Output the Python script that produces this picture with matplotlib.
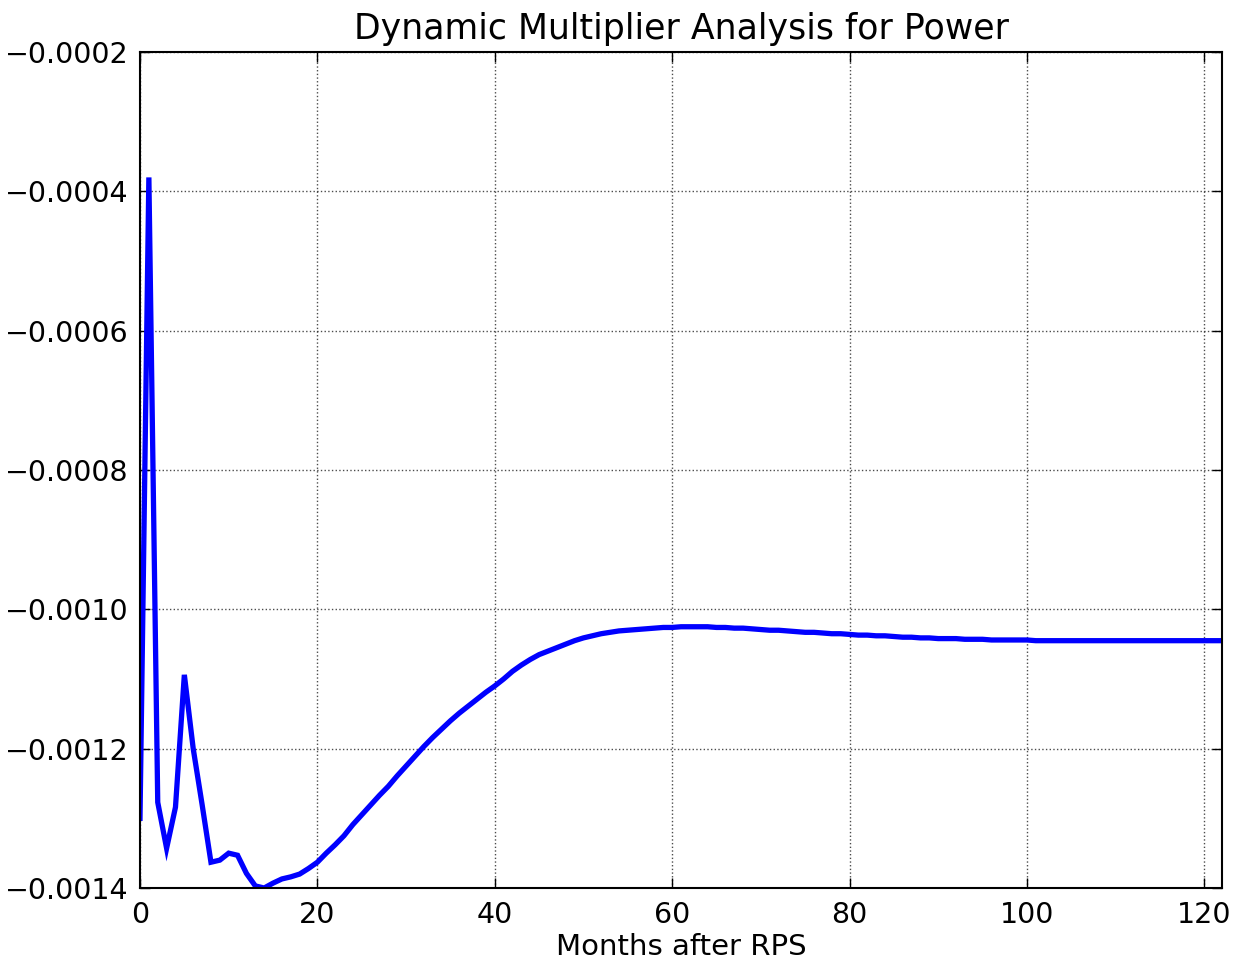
import matplotlib
matplotlib.use("Agg")
import matplotlib.pyplot as plt
from matplotlib.ticker import FuncFormatter, MultipleLocator

title = "Dynamic Multiplier Analysis for Power"
xlabel = "Months after RPS"

months = list(range(0, 123))
multiplier = [
    -0.001300, -0.000380, -0.001277, -0.001343, -0.001284, -0.001094, -0.001200, -0.001280,
    -0.001363, -0.001360, -0.001350, -0.001353, -0.001379, -0.001397, -0.001400, -0.001393,
    -0.001387, -0.001384, -0.001380, -0.001372, -0.001363, -0.001350, -0.001338, -0.001325,
    -0.001309, -0.001295, -0.001281, -0.001267, -0.001254, -0.001239, -0.001225, -0.001211,
    -0.001197, -0.001184, -0.001172, -0.001160, -0.001149, -0.001139, -0.001129, -0.001119,
    -0.001110, -0.001100, -0.001089, -0.001080, -0.001072, -0.001065, -0.001060, -0.001055,
    -0.001050, -0.001045, -0.001041, -0.001038, -0.001035, -0.001033, -0.001031, -0.001030,
    -0.001029, -0.001028, -0.001027, -0.001026, -0.001026, -0.001025, -0.001025, -0.001025,
    -0.001025, -0.001026, -0.001026, -0.001027, -0.001027, -0.001028, -0.001029, -0.001030,
    -0.001030, -0.001031, -0.001032, -0.001033, -0.001033, -0.001034, -0.001035, -0.001035,
    -0.001036, -0.001037, -0.001037, -0.001038, -0.001038, -0.001039, -0.001040, -0.001040,
    -0.001041, -0.001041, -0.001042, -0.001042, -0.001042, -0.001043, -0.001043, -0.001043,
    -0.001044, -0.001044, -0.001044, -0.001044, -0.001044, -0.001045, -0.001045, -0.001045,
    -0.001045, -0.001045, -0.001045, -0.001045, -0.001045, -0.001045, -0.001045, -0.001045,
    -0.001045, -0.001045, -0.001045, -0.001045, -0.001045, -0.001045, -0.001045, -0.001045,
    -0.001045, -0.001045, -0.001045,
]

fig = plt.figure(figsize=(12.42, 9.63), dpi=100)
ax = fig.add_axes([140/1242, 1-888/963, (1222-140)/1242, (888-52)/963])

ax.plot(months, multiplier, color="#0000ff", linewidth=3.8, solid_joinstyle="miter")

ax.set_xlim(0, 122)
ax.set_ylim(-0.0014, -0.0002)
ax.xaxis.set_major_locator(MultipleLocator(20))
ax.yaxis.set_major_locator(MultipleLocator(0.0002))
ax.yaxis.set_major_formatter(FuncFormatter(lambda v, p: f"{v:.4f}".replace("-", "\u2212")))

ax.grid(True, color="k", linestyle=":", linewidth=1.0, alpha=0.7)
for s in ax.spines.values():
    s.set_linewidth(1.5)
ax.tick_params(direction="in", top=True, right=True, length=7, width=1,
               labelsize=20.5, pad=9)
ax.tick_params(axis="y", pad=8)

ax.set_title(title, fontsize=25, pad=9)
ax.set_xlabel(xlabel, fontsize=21, labelpad=3)

fig.savefig("out.png", dpi=100)
